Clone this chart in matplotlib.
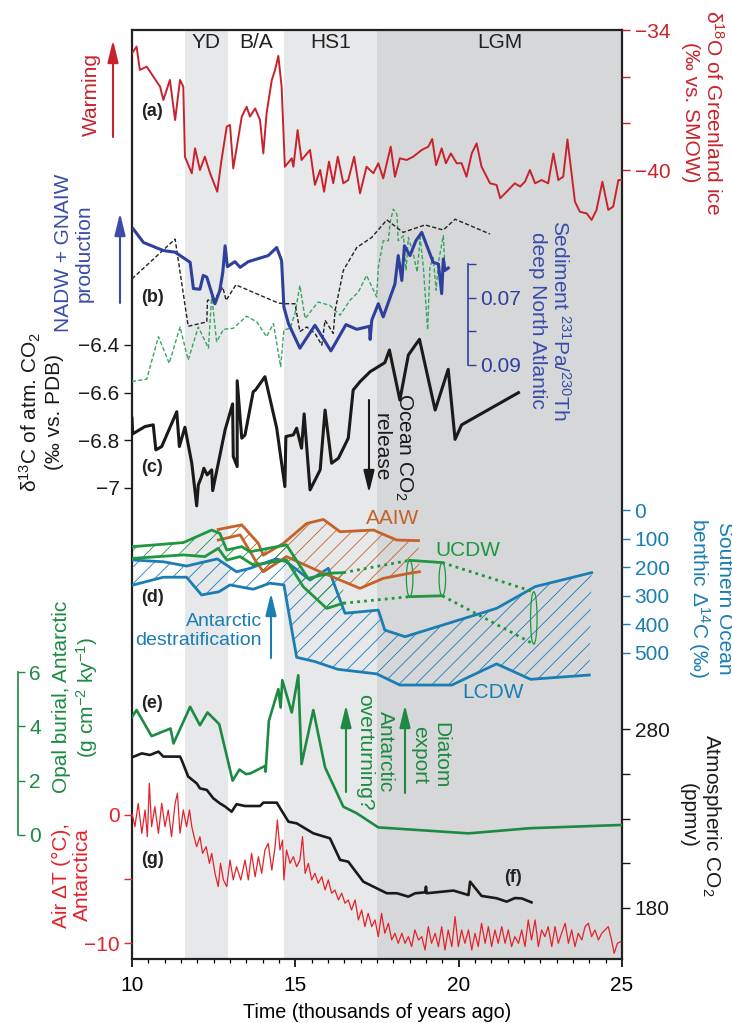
import numpy as np
import matplotlib.pyplot as plt
from matplotlib.patches import Ellipse, FancyArrowPatch

plt.rcParams['font.family'] = ['Liberation Sans', 'DejaVu Sans']
plt.rcParams['mathtext.fontset'] = 'custom'
plt.rcParams['mathtext.rm'] = 'Liberation Sans'
plt.rcParams['mathtext.it'] = 'Liberation Sans:italic'
plt.rcParams['mathtext.bf'] = 'Liberation Sans:bold'
plt.rcParams['font.size'] = 15
plt.rcParams['hatch.linewidth'] = 0.6

# ---- periods (ka) ----
periods = ['YD', 'B/A', 'HS1', 'LGM']
period_start = [11.62, 12.93, 14.65, 17.5]
period_end = [12.93, 14.65, 17.5, 25.0]
period_shade = ['#e7e8ea', None, '#e7e8ea', '#d6d7d9']

# ---- (a) Greenland d18O ----
a_age = [10.0, 10.14, 10.24, 10.45, 10.86, 10.96, 11.16, 11.32, 11.47, 11.57, 11.62, 11.83,
         11.93, 12.08, 12.23, 12.39, 12.61, 12.74, 12.9, 13.0, 13.1, 13.26, 13.36, 13.51,
         13.61, 13.77, 13.92, 14.02, 14.12, 14.28, 14.38, 14.48, 14.58, 14.68, 14.89, 14.94,
         15.07, 15.19, 15.45, 15.6, 15.76, 15.88, 16.03, 16.16, 16.3, 16.47, 16.62, 16.8,
         16.98, 17.18, 17.39, 17.54, 17.69, 17.92, 18.05, 18.2, 18.41, 18.61, 18.87, 19.07,
         19.19, 19.31, 19.48, 19.61, 19.76, 19.94, 20.09, 20.24, 20.4, 20.55, 20.7, 20.96,
         21.16, 21.27, 21.47, 21.72, 21.88, 22.03, 22.18, 22.34, 22.54, 22.74, 22.9, 23.05,
         23.2, 23.33, 23.56, 23.71, 23.92, 24.07, 24.22, 24.4, 24.58, 24.73, 24.89, 24.99]
a_d18o = [-35.0, -34.71, -35.71, -35.57, -36.43, -37.0, -36.14, -37.86, -36.14, -36.43, -39.43, -40.14,
          -39.07, -40.0, -39.43, -40.14, -40.93, -39.57, -38.14, -38.07, -39.93, -38.57, -37.71, -37.29,
          -37.71, -37.36, -37.86, -39.29, -37.57, -36.14, -35.71, -35.11, -36.43, -39.86, -39.5, -39.86,
          -38.29, -39.57, -39.14, -40.64, -40.0, -40.93, -39.64, -40.57, -39.43, -40.57, -40.43, -39.43,
          -41.0, -39.86, -40.14, -39.71, -40.36, -39.0, -40.29, -39.5, -39.57, -39.43, -39.14, -39.0,
          -38.67, -39.79, -39.07, -39.71, -39.29, -39.71, -39.71, -40.29, -39.29, -38.86, -39.86, -40.57,
          -40.64, -41.21, -40.93, -40.57, -40.71, -40.5, -40.0, -40.57, -40.43, -40.57, -39.29, -40.43,
          -40.29, -38.69, -41.36, -41.79, -41.86, -42.14, -41.71, -40.5, -41.71, -41.57, -40.43, -40.43]

# ---- (b) 231Pa/230Th ----
b_age = [10.04, 10.35, 10.96, 11.32, 11.78, 11.88, 12.08, 12.18, 12.29, 12.54, 12.69, 12.78,
         12.85, 12.92, 13.15, 13.31, 13.56, 14.17, 14.43, 14.58, 14.65, 14.79, 15.14, 15.6,
         16.09, 16.55, 16.88, 17.27, 17.29, 17.34, 17.54, 17.69, 18.05, 18.15, 18.26, 18.34,
         18.51, 18.69, 18.87, 19.22, 19.38, 19.48, 19.53, 19.58, 19.68]
b_path = [0.0496, 0.0536, 0.056, 0.0565, 0.0595, 0.0673, 0.0675, 0.0634, 0.0639, 0.0718, 0.0678, 0.0624,
          0.0546, 0.0608, 0.0593, 0.061, 0.0593, 0.0575, 0.0551, 0.059, 0.0728, 0.0777, 0.085, 0.0782,
          0.0858, 0.078, 0.0794, 0.0785, 0.0824, 0.0767, 0.0718, 0.0757, 0.0659, 0.0575, 0.0649, 0.0546,
          0.0575, 0.0531, 0.0506, 0.0595, 0.06, 0.0688, 0.0585, 0.0619, 0.0612]
b2_age = [10.0, 11.32, 11.72, 12.29, 12.31, 12.54, 12.78, 12.88, 13.18, 14.48, 14.68, 14.99,
          15.14, 15.35, 15.6, 15.81, 15.91, 16.16, 16.22, 16.47, 16.88, 17.34, 17.8, 18.3,
          18.97, 19.53, 19.89, 20.96]
b2_path = [0.0644, 0.0526, 0.0785, 0.0772, 0.0708, 0.0703, 0.0669, 0.0708, 0.0662, 0.0716, 0.0718, 0.0718,
           0.0801, 0.0787, 0.0806, 0.0841, 0.0767, 0.0806, 0.0737, 0.0619, 0.0551, 0.0521, 0.0469, 0.0506,
           0.0484, 0.0499, 0.0467, 0.0511]
b3_age = [10.0, 10.45, 10.81, 11.14, 11.47, 11.72, 12.03, 12.34, 12.44, 12.59, 12.8, 13.1,
          13.51, 13.82, 14.12, 14.33, 14.55, 14.65, 14.84, 14.99, 15.14, 15.3, 15.5, 15.7,
          16.06, 16.21, 16.37, 16.67, 16.93, 17.18, 17.49, 17.54, 17.69, 17.85, 17.9, 18.0,
          18.11, 18.15, 18.31, 18.39, 18.46, 18.61, 18.73, 18.82, 18.92, 19.05, 19.12, 19.22,
          19.31, 19.38, 19.53, 19.58]
b3_path = [0.0949, 0.0942, 0.0816, 0.0895, 0.0787, 0.0885, 0.0787, 0.085, 0.0693, 0.0831, 0.0794, 0.0791,
           0.0755, 0.0772, 0.0816, 0.0777, 0.0905, 0.0796, 0.0791, 0.0747, 0.0664, 0.0762, 0.0737, 0.0713,
           0.0723, 0.0737, 0.0752, 0.0708, 0.0683, 0.0634, 0.0698, 0.061, 0.0531, 0.0531, 0.0477, 0.0437,
           0.0452, 0.0531, 0.0516, 0.0619, 0.0521, 0.057, 0.0624, 0.0521, 0.061, 0.0796, 0.061, 0.058,
           0.0678, 0.0595, 0.0516, 0.061]

# ---- (c) d13C of atmospheric CO2 ----
c_age = [10.0, 10.02, 10.4, 10.65, 10.73, 10.91, 11.37, 11.45, 11.62, 11.83, 11.98, 12.03,
         12.13, 12.2, 12.3, 12.44, 12.47, 12.85, 13.08, 13.1, 13.22, 13.22, 13.36, 13.46,
         13.71, 13.78, 14.07, 14.43, 14.68, 14.71, 14.94, 15.04, 15.19, 15.27, 15.45, 15.76,
         15.91, 16.11, 16.32, 16.62, 16.77, 16.98, 17.29, 17.74, 17.88, 18.2, 18.46, 18.8,
         19.28, 19.68, 19.89, 20.09, 21.83]
c_d13c = [-6.707, -6.773, -6.742, -6.735, -6.84, -6.826, -6.68, -6.826, -6.745, -6.896, -7.075, -6.987,
          -6.952, -6.917, -6.945, -6.924, -7.011, -6.756, -6.647, -6.868, -6.91, -6.55, -6.791, -6.777,
          -6.596, -6.589, -6.533, -6.749, -6.994, -6.784, -6.777, -6.749, -6.833, -6.689, -7.008, -6.924,
          -6.673, -6.896, -6.875, -6.791, -6.589, -6.554, -6.512, -6.474, -6.421, -6.631, -6.442, -6.376,
          -6.673, -6.502, -6.796, -6.735, -6.6]

# ---- (d) Southern Ocean benthic D14C water-mass envelopes ----
aaiw_top_age = [12.64, 13.36, 13.87, 14.02, 14.63, 15.35, 15.86, 16.37, 17.39, 18.1, 18.77]
aaiw_top = [68, 52, 117, 158, 117, 47, 33, 76, 70, 105, 107]
aaiw_bot_age = [12.64, 13.31, 13.77, 14.02, 14.73, 15.76, 16.98, 17.69, 18.51, 18.8]
aaiw_bot = [105, 87, 175, 216, 163, 216, 274, 239, 221, 216]

ucdw_top_age = [10.04, 11.57, 12.44, 12.69, 12.9, 13.36, 13.61, 14.73, 15.39, 16.06, 16.47]
ucdw_top = [128, 114, 70, 82, 140, 128, 146, 122, 239, 221, 219]
ucdw_bot_age = [10.04, 11.57, 12.23, 12.64, 12.9, 13.31, 13.71, 14.73, 15.24, 15.96, 16.47]
ucdw_bot = [169, 157, 163, 134, 175, 163, 192, 175, 268, 344, 326]
ucdw_late_age = [18.5, 19.5, 22.3]
ucdw_late_top = [176, 184, 286]
ucdw_late_bot = [303, 300, 469]

lcdw_top_age = [10.04, 10.96, 11.67, 11.93, 12.61, 13.2, 13.61, 14.41, 14.73, 15.45, 16.01, 16.52,
                17.54, 17.74, 18.36, 21.16, 22.34, 24.07]
lcdw_top = [175, 181, 196, 189, 171, 216, 204, 171, 181, 245, 204, 361,
            350, 420, 443, 344, 268, 219]
lcdw_bot_age = [10.04, 10.96, 11.67, 12.13, 12.66, 13.0, 13.71, 14.22, 14.65, 15.04, 15.6, 16.3,
                17.49, 18.2, 19.79, 21.16, 22.2, 24.0]
lcdw_bot = [262, 235, 235, 297, 286, 262, 277, 256, 262, 515, 530, 557,
            573, 612, 612, 538, 592, 577]

# ---- (e) Antarctic opal burial ----
e_age = [10.0, 10.14, 10.6, 11.18, 11.27, 11.78, 12.08, 12.31, 12.67, 13.08, 13.29, 13.49,
         13.63, 14.07, 14.09, 14.19, 14.48, 14.55, 14.6, 14.89, 15.09, 15.19, 15.55, 15.91,
         16.47, 16.88, 17.54, 20.3, 22.18, 24.99]
e_opal = [4.35, 4.6, 3.64, 3.92, 3.37, 4.72, 4.04, 4.51, 4.08, 2.0, 2.41, 2.24,
          2.27, 2.54, 2.33, 4.2, 5.37, 4.69, 5.7, 4.51, 5.88, 2.61, 4.6, 2.49,
          1.04, 0.8, 0.28, 0.06, 0.25, 0.37]

# ---- (f) atmospheric CO2 ----
f_age = [10.0, 10.3, 10.55, 10.81, 10.96, 11.47, 11.52, 11.72, 11.98, 12.08, 12.29, 12.49,
         12.69, 12.85, 13.05, 13.2, 13.46, 13.92, 14.02, 14.43, 14.79, 15.04, 15.55, 16.06,
         16.37, 16.62, 17.08, 17.8, 18.11, 18.46, 18.67, 18.97, 19.0, 19.02, 19.84, 20.3,
         20.35, 20.7, 21.16, 21.47, 21.72, 21.93, 22.23]
f_co2 = [264.3, 266.5, 265.6, 267.5, 264.7, 264.7, 262.8, 253.5, 249.7, 246.9, 246.0, 241.3,
         238.5, 236.7, 233.8, 238.0, 237.0, 237.0, 238.9, 238.9, 228.2, 227.3, 221.7, 218.9,
         206.8, 205.8, 194.6, 188.1, 188.1, 186.2, 188.1, 188.6, 191.8, 188.1, 189.6, 187.1,
         194.6, 186.6, 185.3, 183.4, 185.4, 185.2, 183.0]

# ---- (g) Antarctic air temperature anomaly ----
g_age = [10.0, 10.09, 10.19, 10.3, 10.4, 10.47, 10.53, 10.6, 10.7, 10.81, 10.91, 11.01,
         11.11, 11.21, 11.32, 11.39, 11.47, 11.57, 11.67, 11.76, 11.83, 11.9, 11.98, 12.08,
         12.16, 12.27, 12.37, 12.44, 12.54, 12.64, 12.71, 12.8, 12.9, 13.0, 13.1, 13.2,
         13.33, 13.46, 13.56, 13.66, 13.77, 13.87, 13.97, 14.07, 14.17, 14.28, 14.38, 14.45,
         14.53, 14.61, 14.65, 14.73, 14.84, 14.94, 15.04, 15.14, 15.22, 15.3, 15.4, 15.5,
         15.6, 15.7, 15.81, 15.91, 16.01, 16.11, 16.21, 16.32, 16.42, 16.52, 16.62, 16.72,
         16.83, 16.93, 17.03, 17.13, 17.23, 17.34, 17.44, 17.54, 17.64, 17.74, 17.85, 17.95,
         18.05, 18.15, 18.26, 18.36, 18.46, 18.56, 18.66, 18.77, 18.87, 18.97, 19.07, 19.17,
         19.28, 19.38, 19.48, 19.58, 19.68, 19.79, 19.89, 19.99, 20.09, 20.19, 20.3, 20.4,
         20.5, 20.6, 20.7, 20.81, 20.91, 21.01, 21.11, 21.21, 21.32, 21.42, 21.52, 21.62,
         21.72, 21.83, 21.93, 22.03, 22.13, 22.23, 22.34, 22.44, 22.54, 22.64, 22.74, 22.85,
         22.95, 23.05, 23.15, 23.26, 23.36, 23.46, 23.56, 23.66, 23.77, 23.87, 23.97, 24.07,
         24.17, 24.28, 24.38, 24.48, 24.58, 24.68, 24.76, 24.86, 24.96]
g_dT = [0.13, -0.91, 0.91, -1.43, 0.39, -1.69, 2.47, -0.91, 0.65, -1.43, 0.91, -0.91,
        0.39, -1.69, 0.91, 1.69, -1.43, 0.39, -0.91, 0.39, -0.91, -1.69, -2.47, -1.69,
        -2.99, -2.47, -3.77, -2.99, -4.55, -5.58, -3.77, -5.06, -5.58, -3.51, -5.06, -4.03,
        -5.06, -3.51, -5.06, -2.99, -4.81, -3.25, -4.55, -2.73, -2.21, -4.29, -2.47, -0.39,
        -2.73, -1.95, -5.06, -2.73, -3.77, -3.25, -4.03, -3.51, -1.69, -4.55, -3.77, -5.06,
        -4.55, -5.32, -4.81, -5.84, -5.06, -6.1, -5.84, -6.62, -6.1, -6.88, -6.62, -7.4,
        -6.62, -8.18, -7.4, -8.7, -7.66, -8.7, -8.18, -9.48, -7.66, -9.22, -8.44, -9.74,
        -9.22, -10.0, -9.22, -10.0, -9.48, -10.26, -8.96, -9.74, -9.48, -10.52, -8.7, -10.0,
        -9.22, -10.26, -8.7, -10.52, -8.96, -10.26, -7.92, -10.26, -8.96, -10.0, -8.96, -10.52,
        -9.22, -10.26, -8.44, -10.0, -8.7, -10.26, -8.96, -10.0, -8.7, -10.0, -8.96, -10.26,
        -9.48, -10.0, -8.96, -10.26, -8.18, -9.74, -8.18, -10.26, -8.96, -9.48, -8.7, -10.26,
        -8.7, -10.0, -9.22, -8.44, -10.0, -8.96, -10.26, -9.22, -9.74, -8.7, -8.44, -9.48,
        -8.96, -9.74, -9.22, -8.96, -8.7, -9.74, -10.78, -10.0, -9.87]

# ---- colours ----
RED_A = '#c8232c'
RED_G = '#e4222a'
BLUE = '#2e3f9c'
TEAL = '#1a7db3'
GREEN_D = '#1f9640'
GREEN_E = '#1d8a43'
ORANGE = '#c5622a'
GREEN_DASH = '#3aa463'

# ---- layout helpers (pixel geometry of the 732x1023 picture) ----
W, H = 732, 1023
L, R, T, B = 132, 622, 30, 959


def fx(px):
    return px / W


def fy(py):
    return 1 - py / H


fig = plt.figure(figsize=(W / 100, H / 100), dpi=100)
rect = [fx(L), fy(B), (R - L) / W, (B - T) / H]


def overlay(v1, y1, v2, y2):
    """Transparent axes sharing the time axis; v1 sits at pixel row y1, v2 at y2."""
    ax = fig.add_axes(rect, facecolor='none')
    slope = (v2 - v1) / (y2 - y1)
    ax.set_ylim(v1 + (B - y1) * slope, v1 + (T - y1) * slope)
    ax.set_xlim(10, 25)
    for s in ax.spines.values():
        s.set_visible(False)
    ax.set_xticks([])
    ax.tick_params(axis='y', left=False, labelleft=False, right=False, labelright=False)
    return ax


def yticks(ax, side, ticks, labels, color, length=6):
    ax.set_yticks(ticks)
    ax.set_yticklabels(labels)
    if side == 'left':
        ax.tick_params(axis='y', left=True, labelleft=True, right=False, labelright=False)
    else:
        ax.tick_params(axis='y', right=True, labelright=True, left=False, labelleft=False)
    ax.tick_params(axis='y', colors=color, length=length, width=1, direction='out', pad=3,
                   labelsize=15)


def ftext(px, py, s, **kw):
    fig.text(fx(px), fy(py), s, ha=kw.pop('ha', 'center'), va=kw.pop('va', 'center'),
             linespacing=1.15, **kw)


def farrow(px, y_from, y_to, color):
    fig.add_artist(FancyArrowPatch(
        (fx(px), fy(y_from)), (fx(px), fy(y_to)), transform=fig.transFigure,
        arrowstyle='-|>,head_length=0.9,head_width=0.22', mutation_scale=15,
        color=color, lw=1.5, shrinkA=0, shrinkB=0))


# ---- base axes: shading, frame, time axis ----
ax0 = fig.add_axes(rect)
ax0.set_xlim(10, 25)
ax0.set_ylim(0, 1)
for s0, s1, c in zip(period_start, period_end, period_shade):
    if c:
        ax0.axvspan(s0, s1, color=c, lw=0, zorder=0)
for name, s0, s1 in zip(periods, period_start, period_end):
    ax0.text((s0 + s1) / 2, 1 - 13 / (B - T), name, ha='center', va='center',
             fontsize=15, color='#222222')
ax0.set_yticks([])
ax0.set_xticks([10, 15, 20, 25])
ax0.set_xticks(np.arange(10, 25.01, 0.5), minor=True)
ax0.tick_params(axis='x', which='major', length=6, width=1.2, labelsize=15, pad=6)
ax0.tick_params(axis='x', which='minor', length=3, width=0.9)
for s in ax0.spines.values():
    s.set_linewidth(1.6)
    s.set_color('#222222')
ax0.set_xlabel('Time (thousands of years ago)', fontsize=14.2, labelpad=6)

# ---- (a) ----
ax_a = overlay(-34, 30, -40, 170)
ax_a.plot(a_age, a_d18o, color=RED_A, lw=1.4)
yticks(ax_a, 'right', [-34, -36, -38, -40], ['\u221234', '', '', '\u221240'], RED_A)

# ---- (b) ----
ax_b = overlay(0.06, 264, 0.09, 365)
ax_b.plot(b3_age, b3_path, color=GREEN_DASH, lw=1.0, dashes=(3, 1.6))
ax_b.plot(b2_age, b2_path, color='#222222', lw=1.0, dashes=(3, 1.6))
ax_b.plot(b_age, b_path, color=BLUE, lw=2.2)
ax_b.spines['right'].set_visible(True)
ax_b.spines['right'].set_position(('data', 20.285))
ax_b.spines['right'].set_bounds(0.06, 0.09)
ax_b.spines['right'].set_color(BLUE)
ax_b.spines['right'].set_linewidth(1.2)
yticks(ax_b, 'right', [0.06, 0.07, 0.08, 0.09], ['', '0.07', '', '0.09'], BLUE)

# ---- (c) ----
ax_c = overlay(-6.4, 345, -7.0, 488)
ax_c.plot(c_age, c_d13c, color='#1a1a1a', lw=2.2)
yticks(ax_c, 'left', [-7, -6.8, -6.6, -6.4],
       ['\u22127', '\u22126.8', '\u22126.6', '\u22126.4'], '#1a1a1a')

# ---- (d) ----
ax_d = overlay(0, 510, 500, 653)


def envelope(ax, age_top, top, age_bot, bot, color, lw=2.0):
    xs = list(age_top) + list(age_bot[::-1])
    ys = list(top) + list(bot[::-1])
    ax.fill(xs, ys, facecolor='none', edgecolor=color, hatch='//', lw=0)
    ax.plot(age_top, top, color=color, lw=lw)
    ax.plot(age_bot, bot, color=color, lw=lw)


envelope(ax_d, lcdw_top_age, lcdw_top, lcdw_bot_age, lcdw_bot, TEAL)
envelope(ax_d, aaiw_top_age, aaiw_top, aaiw_bot_age, aaiw_bot, ORANGE)
envelope(ax_d, ucdw_top_age, ucdw_top, ucdw_bot_age, ucdw_bot, GREEN_D)
# UCDW late part: dotted links, a solid cylinder, end ellipses
ax_d.plot([ucdw_top_age[-1]] + ucdw_late_age[:1], [ucdw_top[-1]] + ucdw_late_top[:1],
          color=GREEN_D, lw=2, ls=(0, (1, 1.5)))
ax_d.plot([ucdw_bot_age[-1]] + ucdw_late_age[:1], [ucdw_bot[-1]] + ucdw_late_bot[:1],
          color=GREEN_D, lw=2, ls=(0, (1, 1.5)))
ax_d.plot(ucdw_late_age[:2], ucdw_late_top[:2], color=GREEN_D, lw=2)
ax_d.plot(ucdw_late_age[:2], ucdw_late_bot[:2], color=GREEN_D, lw=2)
ax_d.plot(ucdw_late_age[1:], ucdw_late_top[1:], color=GREEN_D, lw=2, ls=(0, (1, 1.5)))
ax_d.plot(ucdw_late_age[1:], ucdw_late_bot[1:], color=GREEN_D, lw=2, ls=(0, (1, 1.5)))
for x, t, b in zip(ucdw_late_age, ucdw_late_top, ucdw_late_bot):
    ax_d.add_patch(Ellipse((x, (t + b) / 2), 0.2, b - t, fill=False, ec=GREEN_D, lw=0.9))
yticks(ax_d, 'right', [0, 100, 200, 300, 400, 500],
       ['0', '100', '200', '300', '400', '500'], TEAL)

# ---- (e) ----
ax_e = overlay(6, 672, 0, 835)
ax_e.plot(e_age, e_opal, color=GREEN_E, lw=1.9)
ax_e.spines['right'].set_visible(True)
ax_e.spines['right'].set_position(('axes', (18 - L) / (R - L)))
ax_e.spines['right'].set_bounds(0, 6)
ax_e.spines['right'].set_color(GREEN_E)
ax_e.spines['right'].set_linewidth(1.2)
yticks(ax_e, 'right', [0, 2, 4, 6], ['0', '2', '4', '6'], GREEN_E, length=5)

# ---- (f) ----
ax_f = overlay(280, 729.3, 180, 907.7)
ax_f.plot(f_age, f_co2, color='#1a1a1a', lw=1.9)
yticks(ax_f, 'right', [180, 205, 230, 255, 280], ['180', '', '', '', '280'], '#1a1a1a')

# ---- (g) ----
ax_g = overlay(0, 815, -10, 943.3)
ax_g.plot(g_age, g_dT, color=RED_G, lw=0.9)
yticks(ax_g, 'left', [-10, -5, 0], ['\u221210', '', '0'], RED_G)

# ---- panel letters ----
for lab, px, py in [('(a)', 152, 112), ('(b)', 152, 298), ('(c)', 152, 467), ('(d)', 152, 597),
                    ('(e)', 152, 704), ('(g)', 152, 860), ('(f)', 513, 878)]:
    ftext(px, py, lab, fontsize=13, fontweight='bold', color='#222222')

# ---- axis titles ----
ftext(91, 94, 'Warming', rotation=90, color=RED_A)
farrow(113, 137, 40, RED_A)
ftext(74, 253, 'NADW + GNAIW\nproduction', rotation=90, color='#3a4ca8')
farrow(120, 303, 213, '#3a4ca8')
ftext(41, 412, '\u03b4$^{13}$C of atm. CO$_2$\n(\u2030 vs. PDB)', rotation=90, color='#1a1a1a')
ftext(76, 697, 'Opal burial, Antarctic\n(g cm$^{\u22122}$ ky$^{\u22121}$)', rotation=90, color=GREEN_E)
ftext(72, 875, 'Air \u0394T (\u00b0C),\nAntarctica', rotation=90, color=RED_G)

ftext(703, 112, '\u03b4$^{18}$O of Greenland ice\n(\u2030 vs. SMOW)', rotation=270, color=RED_A)
ftext(550, 320, 'Sediment $^{231}$Pa/$^{230}$Th\ndeep North Atlantic', rotation=270, color='#3a4ca8')
ftext(710, 598, 'Southern Ocean\nbenthic \u0394$^{14}$C (\u2030)', rotation=270, color=TEAL)
ftext(701, 815, 'Atmospheric CO$_2$\n(ppmv)', rotation=270, color='#1a1a1a')

# ---- in-plot annotations ----
ftext(393, 447, 'Ocean CO$_2$\nrelease', rotation=270, color='#1a1a1a')
farrow(369, 400, 493, '#1a1a1a')
ftext(262, 631, 'Antarctic\ndestratification', ha='right', multialignment='right',
      color=TEAL, fontsize=14)
farrow(271, 658, 593, TEAL)
ftext(393, 519, 'AAIW', color=ORANGE)
ftext(468, 551, 'UCDW', color=GREEN_D)
ftext(493, 692, 'LCDW', color=TEAL)
ftext(375, 752, 'Antarctic\noverturning?', rotation=270, color=GREEN_E)
farrow(346, 792, 705, GREEN_E)
ftext(430, 755, 'Diatom\nexport', rotation=270, color=GREEN_E)
farrow(405, 793, 705, GREEN_E)

fig.savefig('out.png', dpi=100)
